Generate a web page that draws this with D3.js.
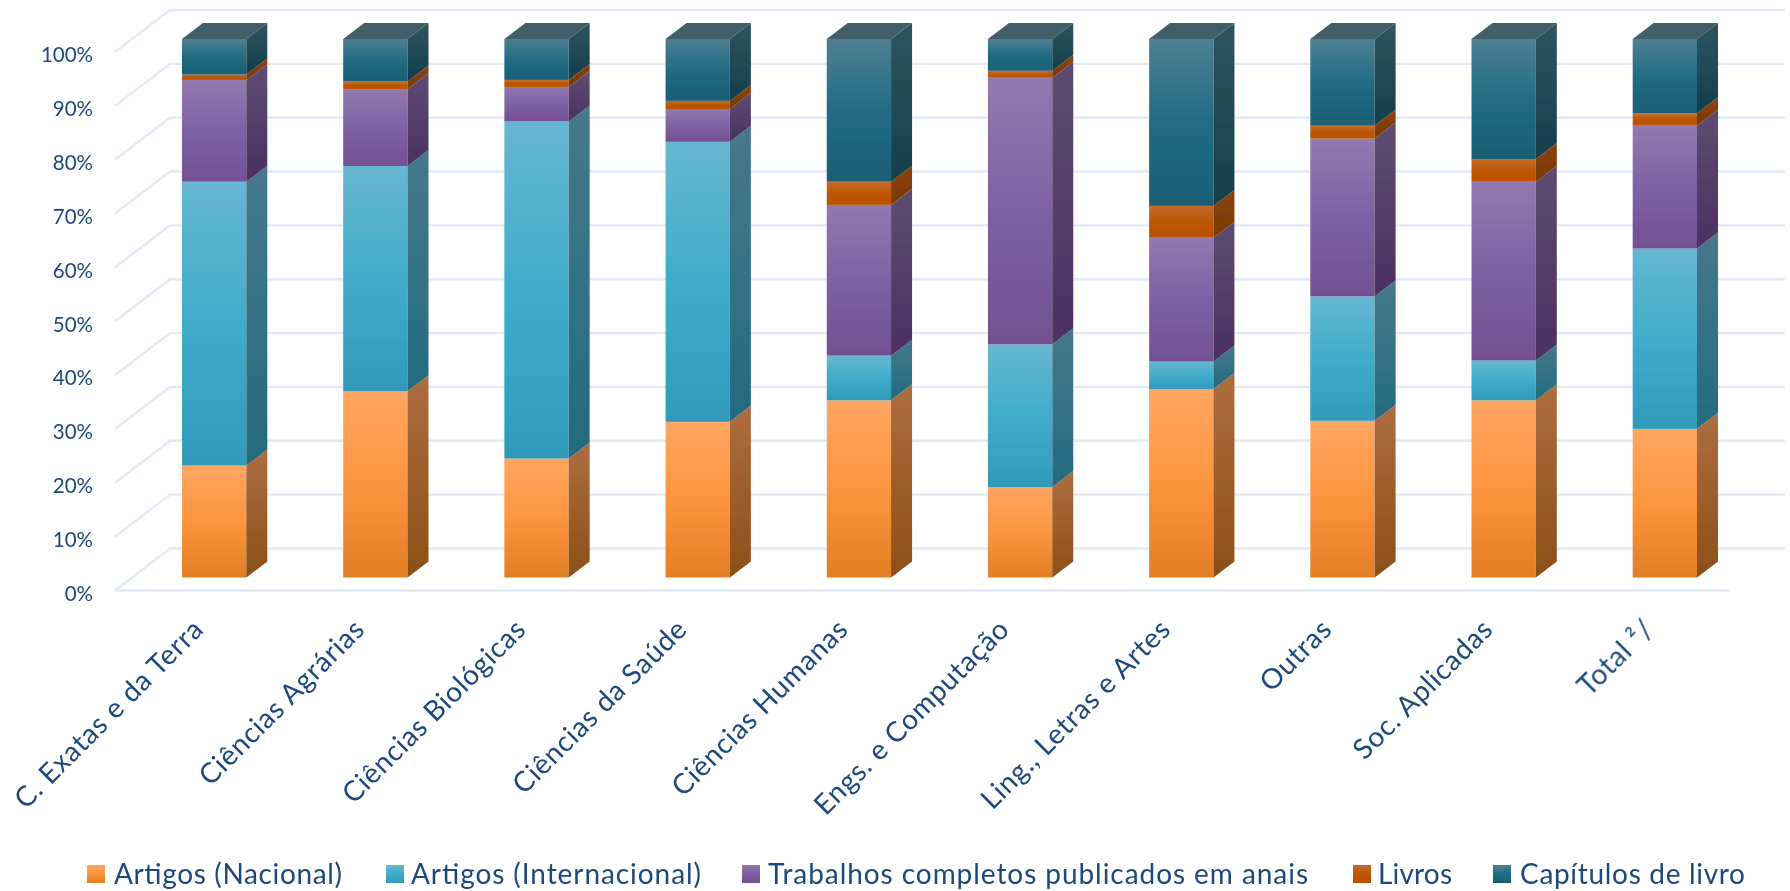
<!DOCTYPE html>
<html lang="pt">
<head>
<meta charset="UTF-8" />
<title>Produção por área</title>
<style>
  html, body { margin: 0; padding: 0; background: #fff; }
  svg { display: block; }
  text { font-family: Lato, "Open Sans", sans-serif; fill: #1F497D; }
</style>
</head>
<body>
<div id="chart"></div>
<script src="https://d3js.org/d3.v7.min.js"></script>
<script>
const categories = ["C. Exatas e da Terra", "Ciências Agrárias", "Ciências Biológicas", "Ciências da Saúde", "Ciências Humanas", "Engs. e Computação", "Ling., Letras e Artes", "Outras", "Soc. Aplicadas", "Total ²/"];
const seriesNames = ["Artigos (Nacional)", "Artigos (Internacional)", "Trabalhos completos publicados em anais", "Livros", "Capítulos de livro"];
const nacional = [20.8, 34.6, 22.1, 28.9, 32.9, 16.8, 35.0, 29.1, 32.9, 27.6];
const internacional = [52.7, 41.8, 62.6, 52.0, 8.3, 26.5, 5.1, 23.1, 7.4, 33.5];
const anais = [18.9, 14.3, 6.4, 6.1, 28.0, 49.5, 23.0, 29.3, 33.2, 22.8];
const livros = [1.0, 1.4, 1.3, 1.5, 4.3, 1.3, 5.9, 2.4, 4.2, 2.3];
const capitulos = [6.6, 7.9, 7.6, 11.5, 26.5, 5.9, 31.0, 16.1, 22.3, 13.8];
const yTicks = [0, 10, 20, 30, 40, 50, 60, 70, 80, 90, 100];

const faceColors = [
  { front: ["#FEA662", "#FD953E", "#E27E25"], side: ["#AD6E40", "#8C4F18"] },
  { front: ["#66B7D1", "#40ACCB", "#2F9ABA"], side: ["#45798B", "#246A7E"] },
  { front: ["#9279AE", "#8060A5", "#725091"], side: ["#5E4D71", "#4B3061"] },
  { front: ["#C56B30", "#BC5600", "#B85000"], side: ["#8C4210", "#7A3A00"] },
  { front: ["#4F8092", "#216C83", "#1A5F75"], side: ["#2F5460", "#133E4B"] }
];
const topColor = "#3F5F69";
const gridColor = "#E2EAF6";

const width = 1790, height = 891;
// depth of the wall and of the bars in the fake 3D
const wallDx = 55, wallDy = 42, barDx = 21, barDy = 16, barLift = 13;
const gridLeft = 115, gridRight = 1785;

const svg = d3.select("#chart").append("svg").attr("width", width).attr("height", height);
const defs = svg.append("defs");

const soft = defs.append("filter").attr("id", "soft");
soft.append("feGaussianBlur").attr("stdDeviation", 0.55);

function gradient(id, colors) {
  const g = defs.append("linearGradient").attr("id", id).attr("x1", 0).attr("y1", 0).attr("x2", 0).attr("y2", 1);
  colors.forEach((c, i) => g.append("stop").attr("offset", i / (colors.length - 1)).attr("stop-color", c));
}
faceColors.forEach((c, i) => {
  gradient("front" + i, c.front);
  gradient("side" + i, c.side);
});

const table = categories.map((name, i) => ({
  name,
  s0: nacional[i], s1: internacional[i], s2: anais[i], s3: livros[i], s4: capitulos[i]
}));
const stacked = d3.stack().keys(["s0", "s1", "s2", "s3", "s4"])(table);

const x = d3.scaleBand().domain(categories).range([182, 1697]).paddingInner(0.601).paddingOuter(0);
const y = d3.scaleLinear().domain([0, 100]).range([590.5, 52]);

const root = svg.append("g").attr("filter", "url(#soft)");

// wall and floor gridlines
const grid = root.append("g").attr("fill", "none").attr("stroke", gridColor).attr("stroke-width", 2.4);
grid.selectAll("path.wall").data(yTicks).join("path").attr("class", "wall")
  .attr("d", d => d3.line()([[gridLeft, y(d)], [gridLeft + wallDx, y(d) - wallDy], [gridRight, y(d) - wallDy]]));
grid.append("line").attr("x1", gridLeft).attr("x2", gridRight - wallDx).attr("y1", y(0)).attr("y2", y(0));

// y axis
const yAxis = root.append("g").attr("transform", "translate(93,3)")
  .call(d3.axisLeft(y).tickValues(yTicks).tickSize(0).tickPadding(0).tickFormat(d => d + "%"));
yAxis.select(".domain").remove();
yAxis.selectAll("text").attr("font-size", 20.5).attr("dy", "0.33em").style("font-family", "Lato");

// bars
const bars = root.append("g");
stacked.forEach((layer, k) => {
  const g = bars.append("g");
  g.selectAll("rect").data(layer).join("rect")
    .attr("x", d => x(d.data.name))
    .attr("y", d => y(d[1]) - barLift)
    .attr("width", x.bandwidth())
    .attr("height", d => y(d[0]) - y(d[1]))
    .attr("fill", `url(#front${k})`);
  g.selectAll("path").data(layer).join("path")
    .attr("fill", `url(#side${k})`)
    .attr("d", d => {
      const x0 = x(d.data.name) + x.bandwidth();
      const t = y(d[1]) - barLift, b = y(d[0]) - barLift;
      return d3.line()([[x0, t], [x0 + barDx, t - barDy], [x0 + barDx, b - barDy], [x0, b]]) + "Z";
    });
});
// top caps
bars.append("g").selectAll("path").data(stacked[4]).join("path")
  .attr("fill", topColor)
  .attr("d", d => {
    const x0 = x(d.data.name), x1 = x0 + x.bandwidth(), t = y(d[1]) - barLift;
    return d3.line()([[x0, t], [x0 + barDx, t - barDy], [x1 + barDx, t - barDy], [x1, t]]) + "Z";
  });

// category labels
root.append("g").selectAll("text").data(categories).join("text")
  .attr("text-anchor", "end")
  .attr("font-size", 28)
  .attr("letter-spacing", 0.7)
  .attr("transform", d => `translate(${x(d) + x.bandwidth() / 2 - 9},631) rotate(-45)`)
  .text(d => d);

// legend
const legendSwatchX = [87, 386, 742, 1353, 1493];
const legendTextX = [114, 411, 768, 1378, 1520];
const legendTextW = [228, 290, 540, 74, 225];
const legend = root.append("g");
seriesNames.forEach((name, k) => {
  legend.append("rect").attr("x", legendSwatchX[k]).attr("y", 865).attr("width", 18).attr("height", 18)
    .attr("fill", `url(#front${k})`);
  legend.append("text").attr("x", legendTextX[k]).attr("y", 884).attr("font-size", 28)
    .attr("textLength", legendTextW[k]).text(name);
});
</script>
</body>
</html>
